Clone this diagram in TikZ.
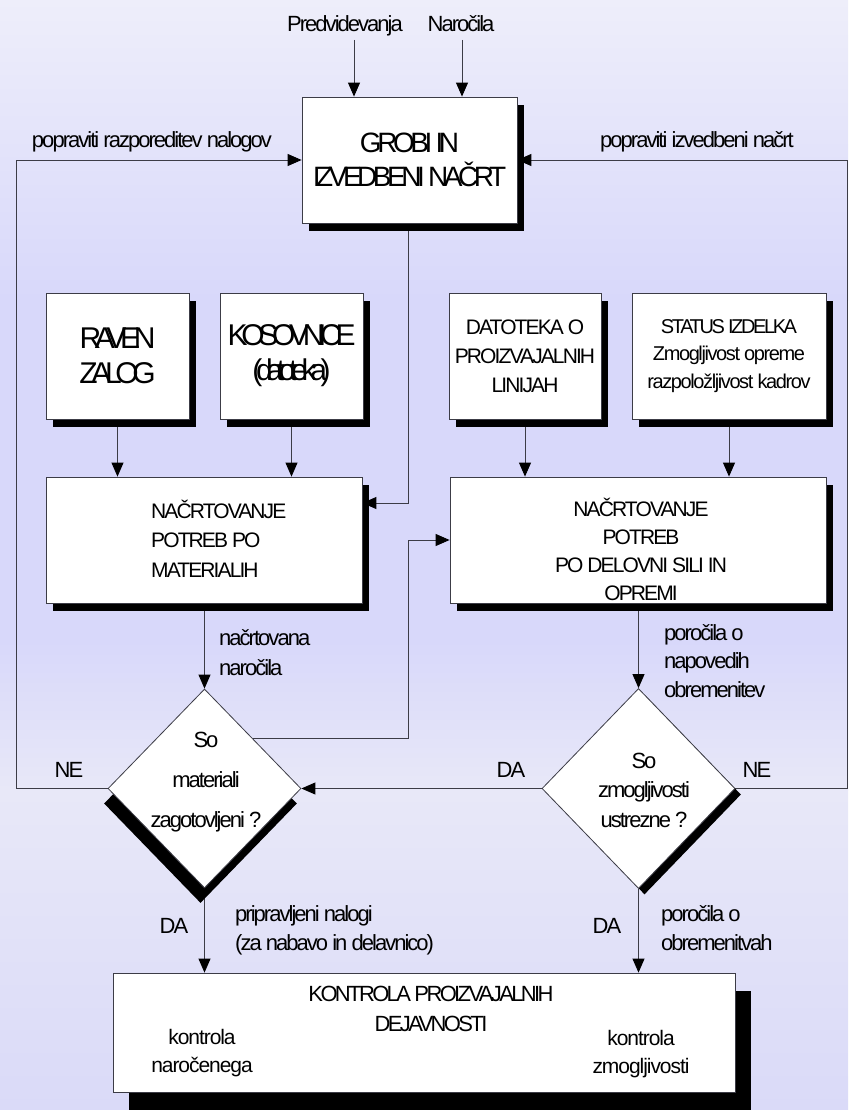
\documentclass[tikz,border=0pt]{standalone}
\usepackage{fontspec}
\setmainfont{Liberation Sans}
\newfontfamily\lsXXI[LetterSpace=-21]{Liberation Sans}
\newfontfamily\lsXVI[LetterSpace=-16]{Liberation Sans}
\newfontfamily\lsXII[LetterSpace=-12]{Liberation Sans}
\newfontfamily\lsIX[LetterSpace=-9]{Liberation Sans}
\newfontfamily\lsVII[LetterSpace=-7]{Liberation Sans}
\newfontfamily\lsV[LetterSpace=-5]{Liberation Sans}
\usetikzlibrary{arrows.meta,shapes.geometric,shadows}
\newcommand\fsz[2]{\fontsize{#1}{#2}\selectfont}
\pgfdeclarelayer{bgl}
\pgfdeclarelayer{lines}
\pgfsetlayers{bgl,lines,main}
\definecolor{bgtop}{RGB}{238,238,250}
\definecolor{bgmid}{RGB}{216,216,250}
\definecolor{bglow}{RGB}{232,232,248}
\definecolor{bgbot}{RGB}{218,218,248}
\definecolor{ln}{RGB}{60,60,70}
\tikzset{
  conn/.style={draw=ln, line width=0.9pt},
  arr/.style={conn, -{Triangle[length=14pt,width=12pt,color=black]}},
  plainbox/.style={draw=ln, line width=0.8pt, fill=white, inner sep=0pt, align=center},
  box/.style={plainbox, general shadow={fill=black, shadow xshift=7pt, shadow yshift=-8pt}},
  dia/.style={diamond, draw=ln, line width=0.8pt, fill=white, inner sep=0pt},
  txt/.style={inner sep=0pt, anchor=base, align=center},
  lab/.style={txt, font=\fsz{22}{29}\lsIX},
}
\begin{document}
\begin{tikzpicture}[x=1pt,y=-1pt]
\begin{pgfonlayer}{bgl}
\path[use as bounding box] (0,0) rectangle (848,1110);
\fill[top color=bgtop,bottom color=bgmid] (0,0) rectangle (848,300);
\fill[bgmid] (0,300) rectangle (848,640);
\fill[top color=bgmid,bottom color=bglow] (0,640) rectangle (848,790);
\fill[top color=bglow,bottom color=bgbot] (0,790) rectangle (848,1110);
\end{pgfonlayer}

% boxes
\node[box, minimum width=215pt, minimum height=126pt, font=\fsz{28}{34}\lsXVI] (grobi) at (409.5,160) {GROBI IN\\IZVEDBENI NAČRT};
\node[box, minimum width=143pt, minimum height=126pt, font=\fsz{30}{35}\lsXXI] (ra) at (117.5,356) {RAVEN\\ZALOG};
\node[box, minimum width=143pt, minimum height=126pt, font=\fsz{30}{35}\lsXXI] (ko) at (291.5,356) {KOSOVNICE\\(datoteka)};
\node[box, minimum width=152pt, minimum height=126pt, font=\fsz{21}{29}\lsIX] (da) at (525,356) {DATOTEKA O\\PROIZVAJALNIH\\LINIJAH};
\node[box, minimum width=194pt, minimum height=126pt, font=\fsz{20}{27.5}\lsVII] (st) at (729,356) {{\lsXII STATUS IZDELKA}\\Zmogljivost opreme\\razpoložljivost kadrov};
\node[box, minimum width=316pt, minimum height=126pt] (mat) at (204,540) {};
\node[box, minimum width=376pt, minimum height=126pt] (del) at (638,540) {};
\node[plainbox, minimum width=622pt, minimum height=119pt, general shadow={fill=black, shadow xshift=16pt, shadow yshift=-18pt}] (kon) at (424,1032.5) {};

% diamonds
\node[dia, minimum width=193pt, minimum height=199pt, general shadow={fill=black, shadow xshift=-4pt, shadow yshift=-15pt}] (d1) at (204.5,788.5) {};
\node[dia, minimum width=193pt, minimum height=200pt, general shadow={fill=black, shadow xshift=6pt, shadow yshift=-6pt}] (d2) at (638.5,788.5) {};

% texts inside (anchor = baseline of last line)
\node[txt, anchor=base west, align=left, font=\fsz{21}{29.5}\lsIX] (matt) at (151,577) {NAČRTOVANJE\\POTREB PO\\MATERIALIH};
\node[txt, font=\fsz{21}{27.7}\lsIX] (delt) at (641,600) {NAČRTOVANJE\\POTREB\\PO DELOVNI SILI IN\\OPREMI};
\node[txt, font=\fsz{22}{40}\lsIX] (d1t) at (206,827) {So\\materiali\\zagotovljeni ?};
\node[txt, font=\fsz{22}{29.5}\lsIX] (d2t) at (644,827) {So\\zmogljivosti\\ustrezne ?};
\node[txt, font=\fsz{22}{30}\lsXII] (kont) at (431,1031) {KONTROLA PROIZVAJALNIH\\DEJAVNOSTI};
\node[txt, font=\fsz{21}{28}\lsV] (kon1) at (202,1072) {kontrola\\naročenega};
\node[txt, font=\fsz{21}{28}\lsV] (kon2) at (641,1073) {kontrola\\zmogljivosti};

% labels
\node[lab] (lPred) at (345,32) {Predvidevanja};
\node[lab] (lNar) at (461,32) {Naročila};
\node[lab] (lRaz) at (152,148) {popraviti razporeditev nalogov};
\node[lab] (lIzv) at (697,148) {popraviti izvedbeni načrt};
\node[lab, anchor=base west, align=left, font=\fsz{22}{30}\lsIX] (lNac) at (219,675) {načrtovana\\naročila};
\node[lab, anchor=base west, align=left, font=\fsz{22}{28.5}\lsIX] (lPor) at (664,697) {poročila o\\napovedih\\obremenitev};
\node[lab] (ne1) at (69,777) {NE};
\node[lab] (da1) at (511,777) {DA};
\node[lab] (ne2) at (757,777) {NE};
\node[lab] (da2) at (174,933) {DA};
\node[lab] (da3) at (607,933) {DA};
\node[lab, anchor=base west, align=left, font=\fsz{22}{29}\lsIX] (lPri) at (235,950) {pripravljeni nalogi\\(za nabavo in delavnico)};
\node[lab, anchor=base west, align=left, font=\fsz{22}{29}\lsIX] (lObr) at (661,950) {poročila o\\obremenitvah};

% coordinates
\coordinate (cP) at (354,40);
\coordinate (cN) at (462,40);
\coordinate (cl) at (16,788.5);
\coordinate (cr) at (847.5,788.5);
\coordinate (j1) at (408,540);
\coordinate (j2) at (408,503);

\begin{pgfonlayer}{lines}
\draw[arr] (cP) -- (cP |- grobi.north);
\draw[arr] (cN) -- (cN |- grobi.north);
\draw[arr] (d1.west) -- (cl) |- (grobi.west);
\draw[arr] (d2.east) -- (cr) |- (grobi.east);
\draw[arr] (j2 |- grobi.south) -- (j2) -- (mat.east |- j2);
\draw[arr] (ra.south) -- (ra.south |- mat.north);
\draw[arr] (ko.south) -- (ko.south |- mat.north);
\draw[arr] (da.south) -- (da.south |- del.north);
\draw[arr] (st.south) -- (st.south |- del.north);
\draw[arr] (d1.north |- mat.south) -- (d1.north);
\draw[arr] (d1.north east) -| (j1) -- (del.west);
\draw[arr] (d2.north |- del.south) -- (d2.north);
\draw[arr] (d2.west) -- (d1.east);
\draw[arr] (d1.south) -- (d1.south |- kon.north);
\draw[arr] (d2.south) -- (d2.south |- kon.north);
\end{pgfonlayer}
\end{tikzpicture}
\end{document}
